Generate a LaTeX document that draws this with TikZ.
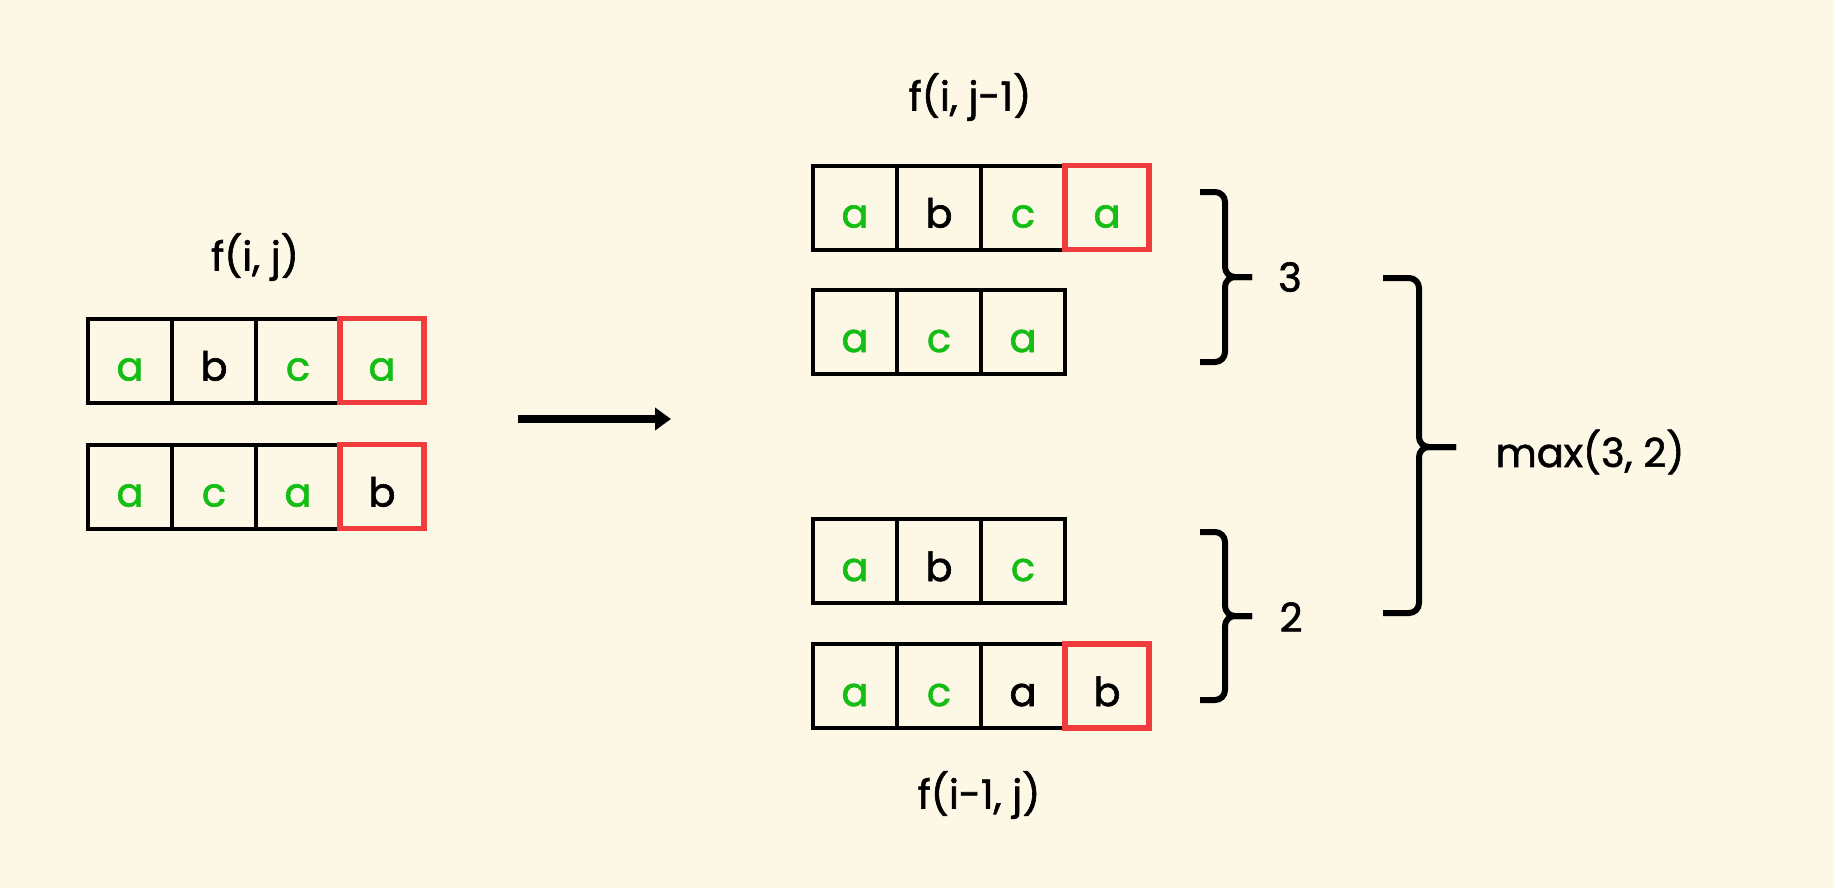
\documentclass[tikz,border=0pt]{standalone}
\usepackage{fontspec}
\setmainfont{Poppins}
\newfontfamily\chalk{Poppins}[FakeBold=1.5]
\usetikzlibrary{arrows.meta}
\definecolor{paper}{RGB}{253,247,230}
\definecolor{same}{RGB}{20,190,20}
\definecolor{lastred}{RGB}{240,60,60}

\begin{document}
\begin{tikzpicture}
  [x=0.5pt,y=-0.5pt,every node/.style={font=\chalk\fontsize{20}{24}\selectfont},
   cell/.style={draw,line width=2pt,minimum size=42pt,inner sep=0pt,text height=20pt,text depth=0pt},
   last/.style={cell,draw=lastred,line width=2.8pt},
   brace/.style={line width=3pt,rounded corners=5pt}]
  \fill[paper] (0,0) rectangle (1834,888);

  \node (fij) at (255,257) {f(i, j)};
  \foreach \s/\c/\t [count=\i] in {cell/same/a,cell/black/b,cell/same/c,last/same/a}
    \node[\s,text=\c] (p1\i) at (46+84*\i,360.5) {\t};
  \foreach \s/\c/\t [count=\i] in {cell/same/a,cell/same/c,cell/same/a,last/black/b}
    \node[\s,text=\c] (p2\i) at (46+84*\i,486.5) {\t};

  \coordinate (go) at (518,419);
  \coordinate (to) at (671,419);
  \draw[line width=4pt,-{Triangle[length=8pt,width=11pt]}] (go) -- (to);

  \node (fij1) at (970,97) {f(i, j-1)};
  \foreach \s/\c/\t [count=\i] in {cell/same/a,cell/black/b,cell/same/c,last/same/a}
    \node[\s,text=\c] (q1\i) at (771+84*\i,207.5) {\t};
  \foreach \s/\c/\t [count=\i] in {cell/same/a,cell/same/c,cell/same/a}
    \node[\s,text=\c] (q2\i) at (771+84*\i,332) {\t};
  \foreach \s/\c/\t [count=\i] in {cell/same/a,cell/black/b,cell/same/c}
    \node[\s,text=\c] (q3\i) at (771+84*\i,561) {\t};
  \foreach \s/\c/\t [count=\i] in {cell/same/a,cell/same/c,cell/black/a,last/black/b}
    \node[\s,text=\c] (q4\i) at (771+84*\i,686) {\t};
  \node (fi1j) at (979,795) {f(i-1, j)};

  \draw[brace] (1200,192) -| (1225,277) -- (1252,277);
  \draw[brace] (1200,362) -| (1225,277) -- (1252,277);
  \node (three) at (1290,277) {3};
  \draw[brace] (1200,532) -| (1225,616) -- (1252,616);
  \draw[brace] (1200,700) -| (1225,616) -- (1252,616);
  \node (two) at (1291,617) {2};

  \draw[brace] (1383,278) -| (1419,447) -- (1456,447);
  \draw[brace] (1383,613) -| (1419,447) -- (1456,447);
  \node (best) at (1590,452) {max(3, 2)};
\end{tikzpicture}
\end{document}
